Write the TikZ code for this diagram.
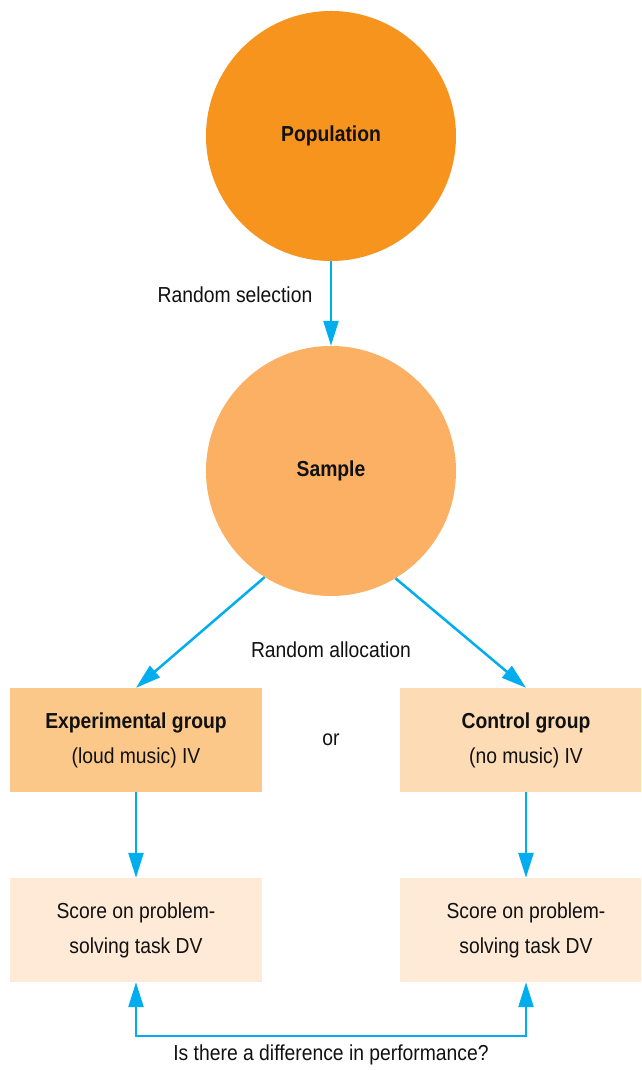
\documentclass[tikz,border=0pt]{standalone}
\usepackage{fontspec}
\setmainfont{Liberation Sans}[FakeStretch=0.89]
\usetikzlibrary{arrows.meta}
\definecolor{popfill}{HTML}{F7941D}
\definecolor{samplefill}{HTML}{FBB063}
\definecolor{expfill}{HTML}{FCC88A}
\definecolor{ctrlfill}{HTML}{FDDBB5}
\definecolor{scorefill}{HTML}{FEEAD7}
\definecolor{flow}{HTML}{00AEEF}
\definecolor{ink}{HTML}{111111}
\tikzset{
  bubble/.style={circle, draw=none, minimum size=250pt, inner sep=0pt, text=ink,
    font=\bfseries\fontsize{21.7}{35}\selectfont},
  groupbox/.style={rectangle, draw=none, minimum width=252pt, minimum height=104pt,
    inner sep=0pt, align=center, text=ink, font=\fontsize{21.7}{35}\selectfont},
  label/.style={text=ink, inner sep=0pt, font=\fontsize{21.7}{35}\selectfont},
  flowline/.style={draw=flow, line width=2.5pt, -{Triangle[length=25pt,width=15pt]}},
  flowboth/.style={draw=flow, line width=2.5pt,
    {Triangle[length=25pt,width=15pt]}-{Triangle[length=25pt,width=15pt]}}
}
\begin{document}
\begin{tikzpicture}[x=1pt,y=1pt]
  \clip (0,0) rectangle (641,1070);
  \fill[white] (0,0) rectangle (641,1070);

  % circles
  \node[bubble, fill=popfill] (pop) at (331,934) {Population};
  \node[bubble, fill=samplefill] (sample) at (331,599) {Sample};

  % group boxes
  \node[groupbox, fill=expfill] (exp) at (136,330)
    {\textbf{Experimental group}\\(loud music) IV};
  \node[groupbox, fill=ctrlfill] (ctrl) at (526,330)
    {\textbf{Control group}\\(no music) IV};

  % outcome boxes
  \node[groupbox, fill=scorefill] (score1) at (136,140)
    {Score on problem-\\solving task DV};
  \node[groupbox, fill=scorefill] (score2) at (526,140)
    {Score on problem-\\solving task DV};

  % labels
  \node[label] (sel) at (235,775) {Random selection};
  \node[label] (alloc) at (331,420) {Random allocation};
  \node[label] (or) at (331,330) {or};
  \node[label] (diff) at (331,15) {Is there a difference in performance?};

  % connectors
  \draw[flowline] (pop.south) -- (sample.north);
  \draw[flowline] (sample.238) -- (exp.north);
  \draw[flowline] (sample.-59) -- (ctrl.north);
  \draw[flowline] (exp.south) -- (score1.north);
  \draw[flowline] (ctrl.south) -- (score2.north);
  \coordinate (b1) at (136,34);
  \coordinate (b2) at (526,34);
  \draw[flowboth] (score1.south) -- (b1) -- (b2) -- (score2.south);
\end{tikzpicture}
\end{document}
